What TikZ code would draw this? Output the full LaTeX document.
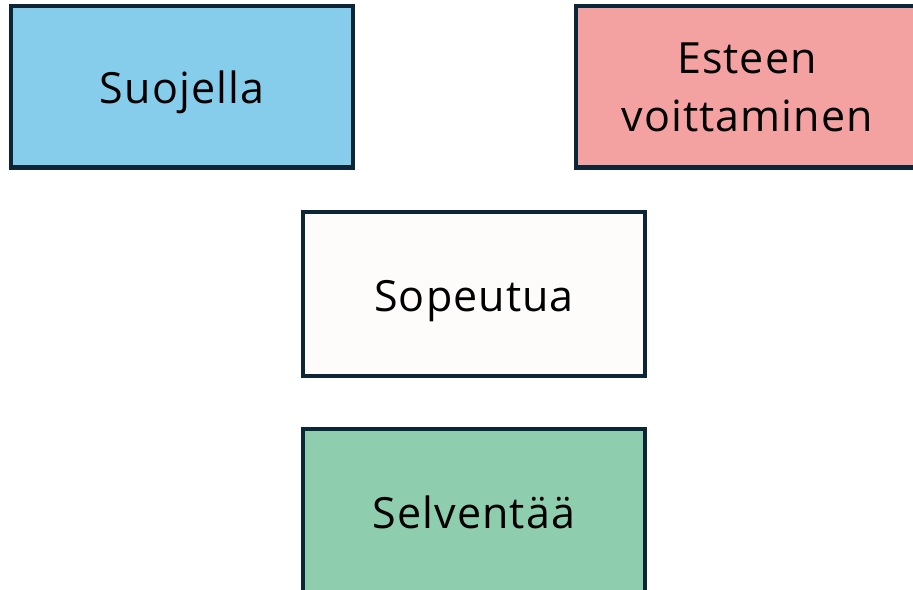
\documentclass[tikz,border=0pt]{standalone}
\usepackage{fontspec}
\setmainfont[LetterSpace=2.5]{Open Sans}
\usepackage{xcolor}
\definecolor{edgenavy}{HTML}{0C2638}
\definecolor{skyfill}{HTML}{86CDEB}
\definecolor{rosefill}{HTML}{F4A1A1}
\definecolor{snowfill}{HTML}{FEFBFB}
\definecolor{mintfill}{HTML}{8ECDAE}
\tikzset{
  card/.style={draw=edgenavy, line width=4bp, minimum width=342bp, minimum height=161bp,
    inner sep=0pt, align=center, font=\fontsize{43bp}{58bp}\selectfont},
  oneline/.style={text height=34bp, text depth=0bp}
}

\begin{document}
\begin{tikzpicture}[x=1bp, y=-1bp]
    % Frame
    \useasboundingbox (0,0) rectangle (913,590);
    \clip (0,0) rectangle (913,590);
    % Nodes
    \node[card, oneline, fill=skyfill] (protect) at (182,87) {Suojella};
    \node[card, fill=rosefill] (overcome) at (747,87) {Esteen\\voittaminen};
    \node[card, oneline, fill=snowfill, minimum height=164bp] (adapt) at (474,294) {Sopeutua};
    \node[card, oneline, fill=mintfill, minimum height=164bp] (clarify) at (474,511) {Selventää};
\end{tikzpicture}
\end{document}
